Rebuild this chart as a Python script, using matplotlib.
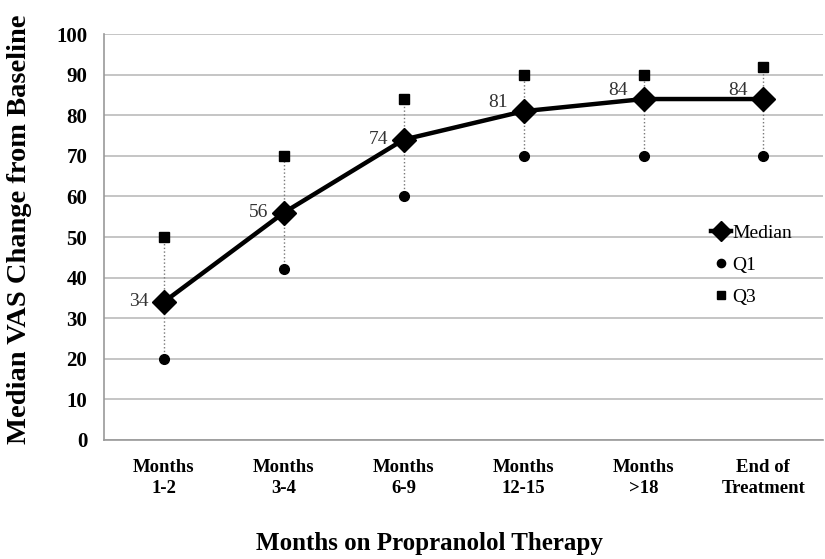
import numpy as np
import matplotlib.pyplot as plt

categories = ["Months\n1-2", "Months\n3-4", "Months\n6-9", "Months\n12-15", "Months\n>18", "End of\nTreatment"]
median = [34, 56, 74, 81, 84, 84]
q1 = [20, 42, 60, 70, 70, 70]
q3 = [50, 70, 84, 90, 90, 92]
label_dy = [0, 0, 0, 6, 6, 6]


def main():
    plt.rcParams['font.family'] = ['Liberation Serif', 'DejaVu Serif']
    fig = plt.figure(figsize=(8.25, 5.59), dpi=100)
    ax = fig.add_axes([0.126, 0.213, 0.872, 0.726])
    x = np.arange(len(categories))

    ax.vlines(x, q1, q3, colors='#777777', linestyles=':', linewidth=1, zorder=2)
    ax.plot(x, median, color='black', lw=3.2, marker='D', ms=12, zorder=4, label='Median')
    ax.plot(x, q1, ls='none', marker='o', color='black', ms=7, zorder=3, label='Q1')
    ax.plot(x, q3, ls='none', marker='s', color='black', ms=7, zorder=3, label='Q3')

    for xi, m, dy in zip(x, median, label_dy):
        ax.annotate(str(m), (xi, m), xytext=(-11, dy), textcoords='offset points',
                    ha='right', va='center', fontsize=14, color='#333333')

    ax.set_xlim(-0.5, len(categories) - 0.5)
    ax.set_ylim(0, 100)
    ax.set_yticks(range(0, 101, 10))
    ax.set_xticks(x)
    ax.set_xticklabels(categories, fontweight='bold', fontsize=13.5, linespacing=1.3)
    for t in ax.get_yticklabels():
        t.set_fontweight('bold')
        t.set_fontsize(15)
    ax.tick_params(length=0, pad=12)
    ax.tick_params(axis='x', pad=14)
    ax.grid(axis='y', color='#bbbbbb', lw=1.2)
    ax.set_axisbelow(True)
    for s in ['top', 'right']:
        ax.spines[s].set_visible(False)
    for s in ['left', 'bottom']:
        ax.spines[s].set_color('#999999')
        ax.spines[s].set_linewidth(1.2)

    ax.set_ylabel('Median VAS Change from Baseline', fontweight='bold', fontsize=20.5)
    ax.yaxis.set_label_coords(-0.1, 0.52)
    ax.set_xlabel('Months on Propranolol Therapy', fontweight='bold', fontsize=18)
    ax.xaxis.set_label_coords(0.453, -0.228)

    ax.legend(loc='upper left', bbox_to_anchor=(0.82, 0.575), frameon=False, fontsize=14,
              handlelength=1.0, handletextpad=0.1, labelspacing=0.75, markerscale=0.85)

    fig.savefig('out.png', dpi=100)


if __name__ == "__main__":
    main()
